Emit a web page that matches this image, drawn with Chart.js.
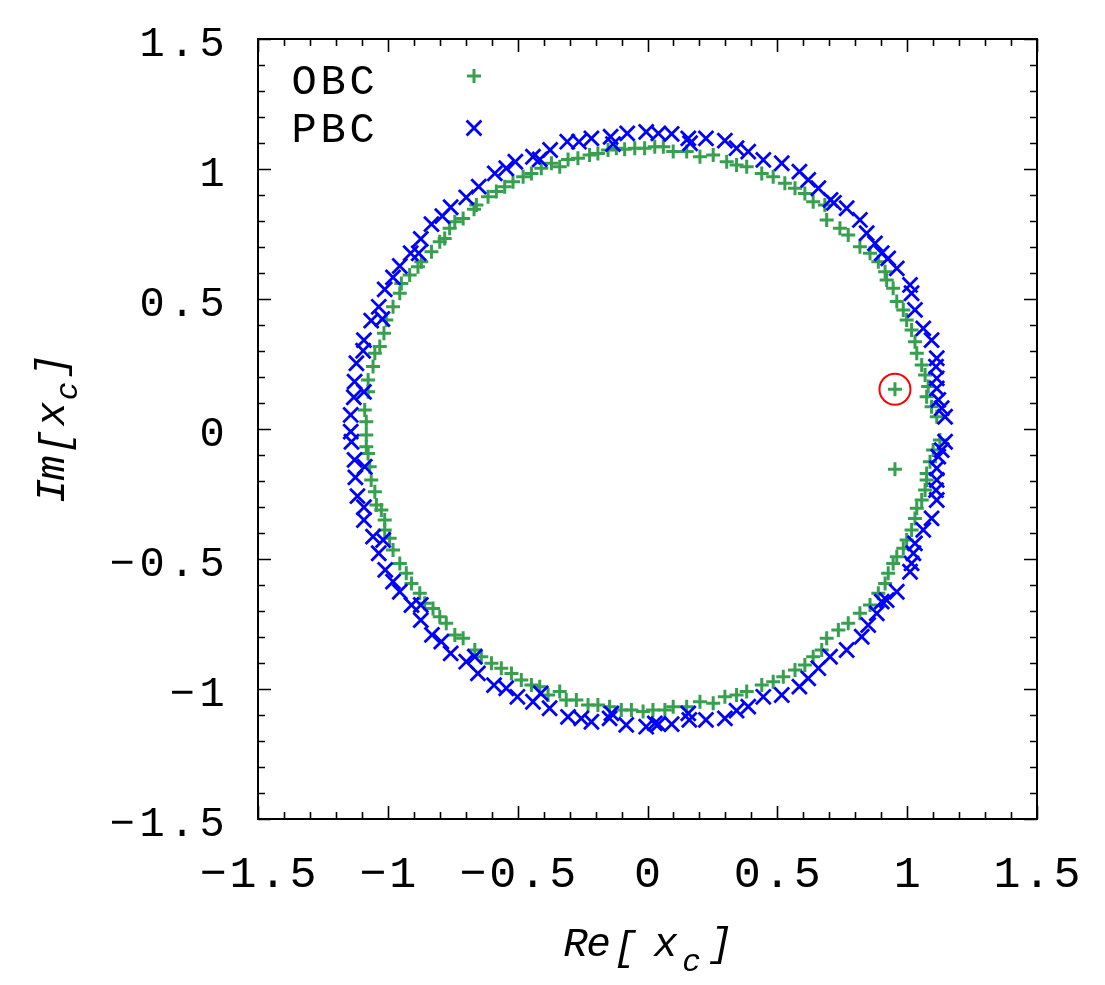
<!DOCTYPE html>
<html>
<head>
<meta charset="utf-8">
<script src="https://cdn.jsdelivr.net/npm/chart.js@4.4.1/dist/chart.umd.min.js"></script>
<style>
  html, body { margin: 0; padding: 0; background: #ffffff; }
  #wrap { width: 1105px; height: 985px; position: relative; }
</style>
</head>
<body>
<div id="wrap"><canvas id="chart"></canvas></div>
<script>
const xTicks = [-1.5, -1, -0.5, 0, 0.5, 1, 1.5];
const xTickLabels = ["−1.5", "−1", "−0.5", "0", "0.5", "1", "1.5"];
const yTicks = [-1.5, -1, -0.5, 0, 0.5, 1, 1.5];
const yTickLabels = ["−1.5", "−1", "−0.5", "0", "0.5", "1", "1.5"];
const seriesLabels = ["OBC", "PBC"];

// open boundary spectrum, [Re, Im]
const obcPoints = [
  [0.028, 1.086], [-0.011, 1.080], [-0.049, 1.080], [-0.088, 1.076], [-0.120, 1.080], [-0.152, 1.073],
  [-0.191, 1.060], [-0.223, 1.054], [-0.268, 1.041], [-0.306, 1.037], [-0.338, 1.009], [-0.370, 1.022],
  [-0.409, 1.003], [-0.447, 0.983], [-0.479, 0.970], [-0.518, 0.951], [-0.550, 0.932], [-0.582, 0.913],
  [-0.614, 0.893], [-0.659, 0.862], [-0.668, 0.845], [-0.710, 0.810], [-0.742, 0.797], [-0.762, 0.772],
  [-0.781, 0.733], [-0.800, 0.720], [-0.832, 0.682], [-0.871, 0.643], [-0.884, 0.624], [-0.916, 0.592],
  [-0.948, 0.560], [-0.954, 0.522], [-0.980, 0.470], [-1.006, 0.419], [-1.015, 0.368], [-1.031, 0.317],
  [-1.050, 0.291], [-1.057, 0.240], [-1.076, 0.188], [-1.076, 0.143], [-1.089, 0.073], [-1.083, 0.028],
  [-1.083, -0.023], [-1.083, -0.068], [-1.076, -0.094], [-1.070, -0.145], [-1.064, -0.196], [-1.050, -0.241],
  [-1.044, -0.292], [-1.025, -0.312], [-1.012, -0.350], [-1.012, -0.388], [-0.993, -0.420], [-0.980, -0.465],
  [-0.954, -0.517], [-0.929, -0.555], [-0.909, -0.594], [-0.877, -0.632], [-0.858, -0.670], [-0.826, -0.690],
  [-0.800, -0.722], [-0.775, -0.747], [-0.742, -0.792], [-0.710, -0.805], [-0.665, -0.850], [-0.640, -0.876],
  [-0.601, -0.901], [-0.563, -0.920], [-0.524, -0.940], [-0.486, -0.965], [-0.447, -0.985], [-0.415, -0.991],
  [-0.383, -1.023], [-0.338, -1.010], [-0.313, -1.042], [-0.274, -1.042], [-0.229, -1.062], [-0.191, -1.062],
  [-0.146, -1.068], [-0.101, -1.081], [-0.062, -1.081], [-0.017, -1.087], [0.021, -1.081],
  [0.061, 1.086], [0.099, 1.067], [0.151, 1.067], [0.202, 1.047], [0.253, 1.054], [0.305, 1.028],
  [0.343, 1.015], [0.382, 1.009], [0.440, 0.983], [0.484, 0.970], [0.529, 0.945], [0.568, 0.926],
  [0.606, 0.906], [0.638, 0.874], [0.683, 0.862], [0.690, 0.804], [0.741, 0.772], [0.773, 0.746],
  [0.818, 0.701], [0.857, 0.676], [0.889, 0.643], [0.915, 0.605], [0.921, 0.573], [0.946, 0.541],
  [0.960, 0.490], [0.985, 0.458], [0.998, 0.419], [1.017, 0.381], [1.030, 0.336], [1.037, 0.291],
  [1.056, 0.246], [1.069, 0.208], [1.081, 0.163], [1.075, 0.124], [1.094, 0.086], [1.114, 0.047],
  [0.953, 0.153],
  [0.067, -1.081], [0.099, -1.068], [0.151, -1.068], [0.202, -1.049], [0.253, -1.055], [0.298, -1.030],
  [0.343, -1.023], [0.382, -1.010], [0.440, -0.985], [0.484, -0.972], [0.523, -0.953], [0.568, -0.927],
  [0.606, -0.908], [0.638, -0.876], [0.671, -0.850], [0.690, -0.805], [0.735, -0.773], [0.773, -0.747],
  [0.818, -0.709], [0.857, -0.677], [0.889, -0.632], [0.915, -0.594], [0.927, -0.555], [0.946, -0.517],
  [0.960, -0.491], [0.985, -0.459], [0.998, -0.427], [1.017, -0.388], [1.030, -0.344], [1.037, -0.305],
  [1.056, -0.273], [1.069, -0.235], [1.075, -0.196], [1.075, -0.171], [1.088, -0.126], [1.100, -0.081],
  [1.126, -0.042], [0.953, -0.155]
];

// periodic boundary spectrum, [Re, Im]
const pbcPoints = [
  [-0.005, 1.143], [-0.078, 1.137], [-0.142, 1.124], [-0.133, 1.096], [-0.216, 1.118], [-0.264, 1.105],
  [-0.309, 1.105], [-0.375, 1.073], [-0.415, 1.037], [-0.441, 1.047], [-0.509, 1.028], [-0.544, 1.003],
  [-0.588, 0.983], [-0.650, 0.932], [-0.698, 0.891], [-0.758, 0.853], [-0.790, 0.819], [-0.832, 0.788],
  [-0.873, 0.731], [-0.912, 0.676], [-0.881, 0.676], [-0.954, 0.627], [-0.980, 0.583], [-1.012, 0.537],
  [-1.035, 0.470], [-1.021, 0.423], [-1.064, 0.417], [-1.092, 0.342], [-1.095, 0.301], [-1.121, 0.253],
  [-1.128, 0.182], [-1.131, 0.122], [-1.092, 0.143], [-1.143, 0.054], [-1.143, -0.010],
  [-1.140, -0.049], [-1.128, -0.119], [-1.089, -0.145], [-1.125, -0.186], [-1.117, -0.258], [-1.092, -0.301],
  [-1.092, -0.350], [-1.057, -0.414], [-1.018, -0.427], [-1.035, -0.478], [-1.010, -0.542], [-0.980, -0.587],
  [-0.954, -0.626], [-0.909, -0.677], [-0.873, -0.677], [-0.873, -0.735], [-0.830, -0.792], [-0.794, -0.818],
  [-0.758, -0.863], [-0.698, -0.895], [-0.665, -0.876], [-0.653, -0.940], [-0.591, -0.985], [-0.544, -0.997],
  [-0.501, -1.030], [-0.441, -1.049], [-0.411, -1.017], [-0.377, -1.074], [-0.306, -1.107], [-0.255, -1.113],
  [-0.216, -1.126], [-0.146, -1.113], [-0.139, -1.094], [-0.082, -1.138], [-0.005, -1.145], [0.028, -1.132],
  [0.042, 1.137], [0.093, 1.135], [0.157, 1.118], [0.164, 1.099], [0.225, 1.118], [0.298, 1.109],
  [0.343, 1.080], [0.388, 1.067], [0.446, 1.035], [0.517, 1.022], [0.585, 0.990], [0.619, 0.958],
  [0.658, 0.926], [0.705, 0.881], [0.718, 0.870], [0.767, 0.849], [0.818, 0.804], [0.844, 0.753],
  [0.876, 0.714], [0.902, 0.676], [0.927, 0.656], [0.960, 0.618], [1.011, 0.554], [1.017, 0.522],
  [1.030, 0.458], [1.062, 0.387], [1.094, 0.342], [1.114, 0.272], [1.111, 0.240], [1.114, 0.195],
  [1.114, 0.156], [1.120, 0.112], [1.133, 0.080], [1.146, 0.047],
  [0.042, -1.135], [0.093, -1.135], [0.157, -1.094], [0.161, -1.119], [0.225, -1.119], [0.298, -1.113],
  [0.343, -1.083], [0.388, -1.068], [0.446, -1.030], [0.517, -1.023], [0.585, -0.991], [0.619, -0.959],
  [0.658, -0.920], [0.703, -0.876], [0.767, -0.850], [0.825, -0.799], [0.850, -0.754], [0.883, -0.709],
  [0.902, -0.664], [0.921, -0.658], [0.960, -0.626], [1.011, -0.549], [1.017, -0.517], [1.024, -0.478],
  [1.030, -0.440], [1.062, -0.388], [1.094, -0.344], [1.114, -0.273], [1.111, -0.235], [1.114, -0.196],
  [1.114, -0.151], [1.120, -0.106], [1.133, -0.081], [1.146, -0.049]
];

// the OBC eigenvalue that is ringed in red
const markedPoints = [[0.953, 0.153]];

const GREEN = "#36a04f";
const BLUE = "#0000ff";
const RED = "#ff0000";
const MONO = "'Liberation Mono', 'DejaVu Sans Mono', monospace";

const toXY = (pts) => pts.map(([x, y]) => ({ x, y }));

// draw a string one glyph at a time, with a fixed advance
const drawSpaced = (ctx, text, firstCenter, baseline, advance) => {
  const chars = Array.from(text);
  chars.forEach((ch, i) => {
    ctx.fillText(ch, firstCenter + i * advance, baseline);
  });
};

const framePlugin = {
  id: "frame",
  afterDraw(chart) {
    const { ctx, chartArea } = chart;
    const { left, right, top, bottom } = chartArea;
    const xs = chart.scales.x;
    const ys = chart.scales.y;

    ctx.save();
    ctx.strokeStyle = "#000";
    ctx.fillStyle = "#000";

    // ticks on all four sides, pointing inwards
    ctx.lineWidth = 1.6;
    ctx.beginPath();
    for (let i = -15; i <= 15; i++) {
      const v = i / 10;
      const len = i % 5 === 0 ? 13 : 7;
      const px = Math.round(xs.getPixelForValue(v)) + 0.5;
      const py = Math.round(ys.getPixelForValue(v)) + 0.5;
      ctx.moveTo(px, bottom); ctx.lineTo(px, bottom - len);
      ctx.moveTo(px, top); ctx.lineTo(px, top + len);
      ctx.moveTo(left, py); ctx.lineTo(left + len, py);
      ctx.moveTo(right, py); ctx.lineTo(right - len, py);
    }
    ctx.stroke();

    ctx.lineWidth = 2;
    ctx.strokeRect(left, top, right - left, bottom - top);

    // tick labels
    const adv = 30;
    ctx.textAlign = "center";
    ctx.textBaseline = "alphabetic";
    ctx.font = "42px " + MONO;
    yTicks.forEach((v, i) => {
      const label = yTickLabels[i];
      const n = Array.from(label).length;
      const py = ys.getPixelForValue(v);
      drawSpaced(ctx, label, left - 46 - (n - 1) * adv, py + 17, adv);
    });
    ctx.font = "45px " + MONO;
    xTicks.forEach((v, i) => {
      const label = xTickLabels[i];
      const n = Array.from(label).length;
      const px = xs.getPixelForValue(v);
      drawSpaced(ctx, label, px - (n - 1) * adv / 2, bottom + 68, adv);
    });

    // axis titles
    const big = "italic 41px " + MONO;
    const sub = "italic 31px " + MONO;
    const cx = (left + right) / 2;
    const title = [
      ["R", -72, 0, big], ["e", -49, 0, big], ["[", -22, 4, big],
      ["x", 18, 0, big], ["c", 44, 15, sub], ["]", 73, 0, big]
    ];
    title.forEach(([ch, dx, dy, f]) => {
      ctx.font = f;
      ctx.fillText(ch, cx + dx, bottom + 137 + dy);
    });
    ctx.save();
    ctx.translate(left - 194, (top + bottom) / 2);
    ctx.rotate(-Math.PI / 2);
    const ytitle = [
      ["I", -62, 0, big], ["m", -39, 0, big], ["[", -13, 4, big],
      ["x", 15, 0, big], ["c", 38, 13, sub], ["]", 63, 0, big]
    ];
    ytitle.forEach(([ch, dx, dy, f]) => {
      ctx.font = f;
      ctx.fillText(ch, dx, dy);
    });
    ctx.restore();

    // key: text first, sample mark to the right
    ctx.font = "42px " + MONO;
    const keyRows = [
      { text: seriesLabels[0], base: top + 55, markY: top + 37, ds: chart.data.datasets[0] },
      { text: seriesLabels[1], base: top + 103, markY: top + 89, ds: chart.data.datasets[1] }
    ];
    keyRows.forEach((row) => {
      ctx.fillStyle = "#000";
      drawSpaced(ctx, row.text, left + 46, row.base, 29);
      ctx.strokeStyle = row.ds.pointBorderColor;
      ctx.fillStyle = row.ds.pointBorderColor;
      ctx.lineWidth = row.ds.pointBorderWidth;
      Chart.helpers.drawPoint(ctx, {
        pointStyle: row.ds.pointStyle,
        radius: row.ds.pointRadius,
        borderWidth: row.ds.pointBorderWidth,
        rotation: 0
      }, left + 216, row.markY);
    });

    ctx.restore();
  }
};

new Chart(document.getElementById("chart"), {
  type: "scatter",
  data: {
    datasets: [
      {
        label: seriesLabels[0],
        data: toXY(obcPoints),
        pointStyle: "cross",
        pointRadius: 7,
        pointBorderWidth: 3,
        pointBorderColor: GREEN,
        pointBackgroundColor: GREEN,
        order: 2
      },
      {
        label: seriesLabels[1],
        data: toXY(pbcPoints),
        pointStyle: "crossRot",
        pointRadius: 10.5,
        pointBorderWidth: 2.8,
        pointBorderColor: BLUE,
        pointBackgroundColor: BLUE,
        order: 1
      },
      {
        label: "marked",
        data: toXY(markedPoints),
        pointStyle: "circle",
        pointRadius: 15.5,
        pointBorderWidth: 2,
        pointBorderColor: RED,
        pointBackgroundColor: "rgba(0,0,0,0)",
        order: 0
      }
    ]
  },
  options: {
    responsive: true,
    maintainAspectRatio: false,
    animation: false,
    events: [],
    layout: { padding: { left: 258, top: 39, right: 68, bottom: 166 } },
    plugins: {
      legend: { display: false },
      tooltip: { enabled: false }
    },
    scales: {
      x: { type: "linear", min: -1.5, max: 1.5, display: false },
      y: { type: "linear", min: -1.5, max: 1.5, display: false }
    }
  },
  plugins: [framePlugin]
});
</script>
</body>
</html>
